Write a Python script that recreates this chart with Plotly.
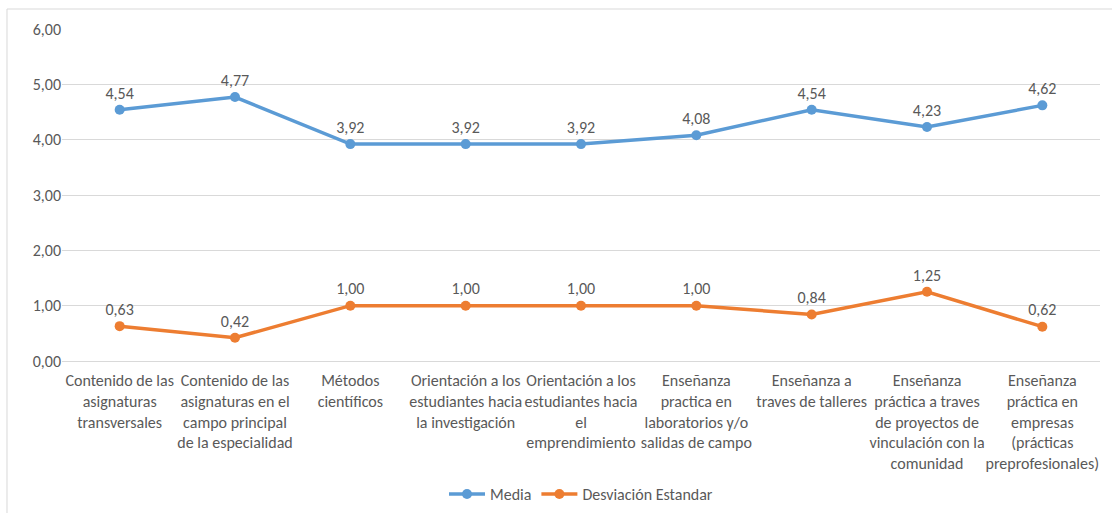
import plotly.graph_objects as go

categorias = [
    "Contenido de las<br>asignaturas<br>transversales",
    "Contenido de las<br>asignaturas en el<br>campo principal<br>de la especialidad",
    "Métodos<br>científicos",
    "Orientación a los<br>estudiantes hacia<br>la investigación",
    "Orientación a los<br>estudiantes hacia<br>el<br>emprendimiento",
    "Enseñanza<br>practica en<br>laboratorios y/o<br>salidas de campo",
    "Enseñanza a<br>traves de talleres",
    "Enseñanza<br>práctica a traves<br>de proyectos de<br>vinculación con la<br>comunidad",
    "Enseñanza<br>práctica en<br>empresas<br>(prácticas<br>preprofesionales)",
]
media = [4.54, 4.77, 3.92, 3.92, 3.92, 4.08, 4.54, 4.23, 4.62]
desviacion = [0.63, 0.42, 1.00, 1.00, 1.00, 1.00, 0.84, 1.25, 0.62]

FONT = "Calibri, Carlito, 'Open Sans', sans-serif"
GRIS = "#595959"
FS = 16

x = list(range(len(categorias)))

fig = go.Figure()
fig.add_trace(go.Scatter(
    x=x, y=media, name="Media", mode="lines+markers+text",
    line=dict(color="#5B9BD5", width=3.5), marker=dict(size=10, color="#5B9BD5"),
    texttemplate="%{y:.2f}", textposition="top center",
    textfont=dict(size=FS, color=GRIS, family=FONT),
))
fig.add_trace(go.Scatter(
    x=x, y=desviacion, name="Desviación Estandar", mode="lines+markers+text",
    line=dict(color="#ED7D31", width=3.5), marker=dict(size=10, color="#ED7D31"),
    texttemplate="%{y:.2f}", textposition="top center",
    textfont=dict(size=FS, color=GRIS, family=FONT),
))

fig.update_layout(
    width=1112, height=513,
    margin=dict(l=62, r=12, t=29, b=152),
    paper_bgcolor="white", plot_bgcolor="white",
    separators=",.",
    font=dict(family=FONT, size=FS, color=GRIS),
    showlegend=True,
    legend=dict(orientation="h", x=0.5, xanchor="center",
                yref="container", y=0.037, yanchor="middle",
                font=dict(size=FS, color=GRIS), itemwidth=36),
    shapes=[dict(type="rect", xref="paper", yref="paper",
                 x0=-0.053, x1=1.03, y0=-0.6, y1=1.0602,
                 line=dict(color="#d9d9d9", width=1), fillcolor="rgba(0,0,0,0)",
                 layer="below")],
)
fig.update_xaxes(
    tickvals=x, ticktext=categorias, range=[-0.5, len(categorias) - 0.5],
    showgrid=False, showline=False, zeroline=False, ticks="", automargin=False,
    ticklabelstandoff=8,
    tickfont=dict(size=FS, color=GRIS, family=FONT), tickangle=0,
)
fig.update_yaxes(
    range=[0, 6], dtick=1, tickformat=".2f", automargin=False,
    showgrid=True, gridcolor="#d9d9d9", gridwidth=1,
    zeroline=True, zerolinecolor="#d9d9d9", zerolinewidth=1,
    showline=False, ticks="", ticklen=0,
    tickfont=dict(size=FS, color=GRIS, family=FONT),
)

fig.write_html("out.html", config={"displayModeBar": False},
               post_script="document.body.style.margin='0';")
